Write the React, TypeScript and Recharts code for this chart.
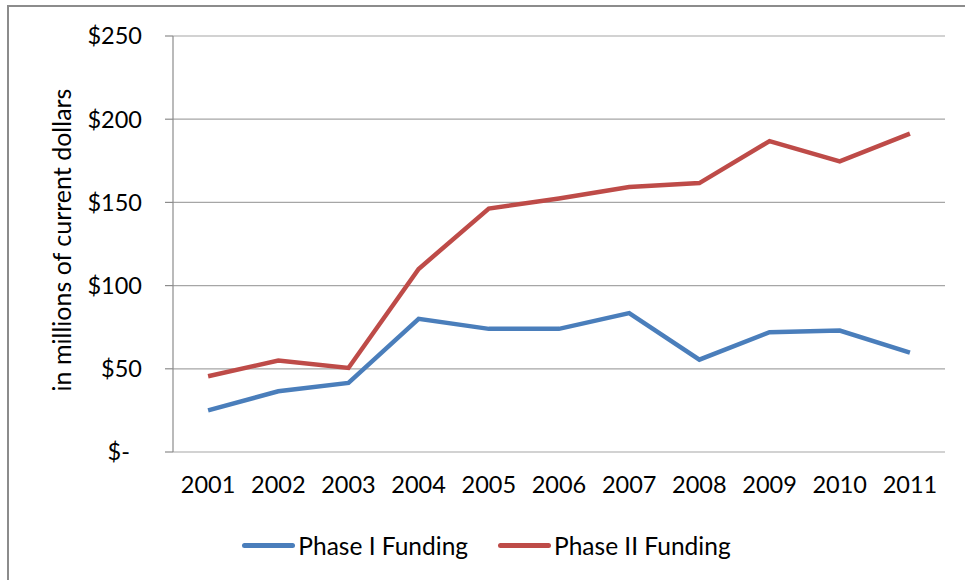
import React from 'react';
import { LineChart, Line, XAxis, YAxis, CartesianGrid, Legend } from 'recharts';

const years = ['2001', '2002', '2003', '2004', '2005', '2006', '2007', '2008', '2009', '2010', '2011'];
const phase1 = [25, 36.5, 41.5, 80, 74, 74, 83.5, 55.5, 72, 73, 59.7];
const phase2 = [45.5, 55, 50.5, 110, 146.3, 152.3, 159.2, 161.6, 186.8, 174.6, 191.3];
const yTicks = [0, 50, 100, 150, 200, 250];
const seriesNames = ['Phase I Funding', 'Phase II Funding'];
const colors = ['#4A7EBB', '#BE4B48'];

const data = years.map((y, i) => ({ x: i + 1, year: y, p1: phase1[i], p2: phase2[i] }));
const labelTicks = years.map((_, i) => i + 1);
const boundaryTicks = [0.5, ...years.map((_, i) => i + 1.5)];

const FONT = 'Lato, "Open Sans", sans-serif';

const fmtY = (v: number) => (v === 0 ? '$-\u00A0\u00A0' : `$${v}`);
const fmtX = (v: number) => years[Math.round(v) - 1] ?? '';

const LegendContent = () => (
  <div style={{ display: 'flex', justifyContent: 'center', alignItems: 'center', height: 30, paddingLeft: 28, fontFamily: FONT, fontSize: 24.5, color: '#000' }}>
    {seriesNames.map((n, i) => (
      <div key={n} style={{ display: 'flex', alignItems: 'center', marginRight: i === 0 ? 30 : 0 }}>
        <div style={{ width: 53, height: 5, borderRadius: 2.5, background: colors[i], marginRight: 3 }} />
        <span>{n}</span>
      </div>
    ))}
  </div>
);

export default function App() {
  return (
    <div style={{ position: 'fixed', left: 0, top: 0, width: 965, height: 580, overflow: 'hidden', background: '#fff' }}>
      <div style={{ position: 'absolute', left: 7, top: 5, width: 1200, height: 1200, borderLeft: '2px solid #8c8c8c', borderTop: '2px solid #8c8c8c' }} />
      <div style={{ position: 'absolute', left: 0, top: 0 }}>
        <LineChart width={965} height={580} data={data} margin={{ top: 36, right: 20, left: 0, bottom: 20 }} style={{ fontFamily: FONT }}>
          <CartesianGrid horizontal={true} vertical={false} stroke="#a6a6a6" strokeWidth={1.2} yAxisId="y" xAxisId="marks" />
          <XAxis
            xAxisId="marks"
            type="number"
            dataKey="x"
            domain={[0.5, 11.5]}
            ticks={boundaryTicks}
            tickFormatter={() => ''}
            tickLine={{ stroke: '#8c8c8c', strokeWidth: 1.2 }}
            tickSize={9}
            axisLine={{ stroke: '#8c8c8c', strokeWidth: 1.2 }}
            height={0}
            allowDataOverflow
          />
          <XAxis
            xAxisId="yr"
            type="number"
            dataKey="x"
            domain={[0.5, 11.5]}
            ticks={labelTicks}
            tickFormatter={fmtX}
            tickLine={false}
            axisLine={false}
            tickSize={0}
            tickMargin={24}
            height={78}
            interval={0}
            tick={{ fill: '#000', fontSize: 23.5, fontFamily: FONT }}
            allowDataOverflow
          />
          <YAxis
            yAxisId="y"
            domain={[0, 250]}
            ticks={yTicks}
            tickFormatter={fmtY}
            width={173}
            tickSize={8}
            tickMargin={23}
            tickLine={{ stroke: '#8c8c8c', strokeWidth: 1.2 }}
            axisLine={{ stroke: '#8c8c8c', strokeWidth: 1.2 }}
            tick={{ fill: '#000', fontSize: 23.5, fontFamily: FONT }}
            interval={0}
            label={{ value: 'in millions of current dollars', angle: -90, position: 'insideLeft', offset: 62, dy: -4, style: { textAnchor: 'middle', fontSize: 25, fill: '#000', fontFamily: FONT } }}
          />
          <Legend verticalAlign="bottom" content={<LegendContent />} />
          <Line xAxisId="yr" yAxisId="y" type="linear" dataKey="p1" name={seriesNames[0]} stroke={colors[0]} strokeWidth={4.5} dot={false} isAnimationActive={false} />
          <Line xAxisId="yr" yAxisId="y" type="linear" dataKey="p2" name={seriesNames[1]} stroke={colors[1]} strokeWidth={4.5} dot={false} isAnimationActive={false} />
        </LineChart>
      </div>
    </div>
  );
}
